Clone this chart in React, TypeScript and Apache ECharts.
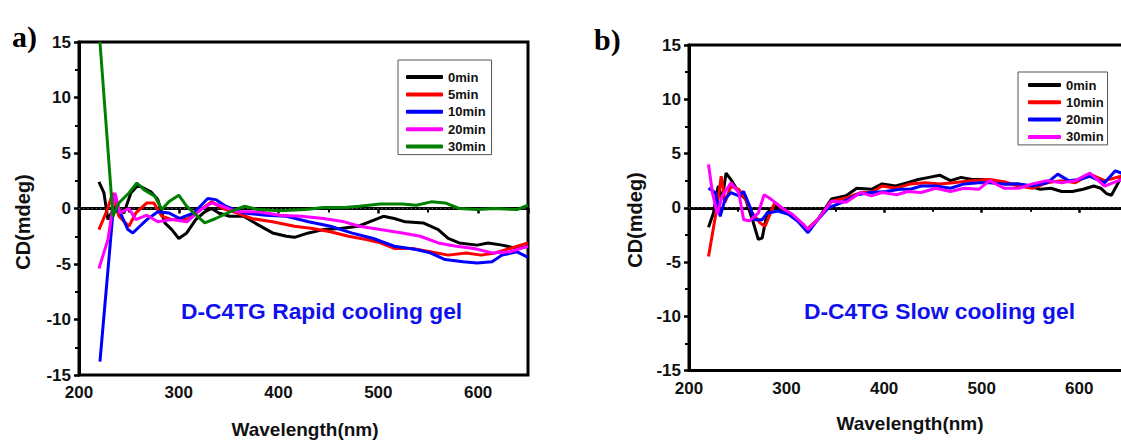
import React, { useEffect, useRef } from "react";
import * as echarts from "echarts";

const FONT = "Arial, 'Liberation Sans', sans-serif";
const SERIF = "'Times New Roman', 'Liberation Serif', serif";

// ---------- Panel a) D-C4TG Rapid cooling gel ----------
const aNames = ["0min", "5min", "10min", "20min", "30min"];
const aColors = ["#000000", "#ff0000", "#0000ff", "#ff00ff", "#008000"];

const a0X = [220, 225, 229, 236, 245, 252, 259, 272, 279, 286, 293, 300, 308, 317, 326, 333, 340, 351, 365, 380, 394, 408, 416, 430, 445, 462, 480, 491, 505, 516, 527, 545, 560, 570, 581, 599, 610, 624, 639, 650];
const a0Y = [2.4, 1.4, -1.0, 0.2, -0.4, 1.4, 2.1, 1.5, 0.8, -1.3, -1.9, -2.7, -2.2, -1.0, -0.3, 0.0, -0.4, -0.7, -0.7, -1.5, -2.2, -2.5, -2.6, -2.2, -1.9, -1.8, -1.6, -1.2, -0.7, -0.9, -1.2, -1.3, -1.9, -2.7, -3.1, -3.3, -3.1, -3.3, -3.6, -3.4];

const a5X = [220, 227, 234, 240, 250, 257, 268, 275, 283, 293, 308, 322, 333, 344, 358, 373, 394, 416, 434, 452, 470, 488, 502, 516, 534, 552, 570, 588, 603, 617, 632, 650];
const a5Y = [-1.9, -0.4, 1.4, -0.7, -1.6, -0.4, 0.5, 0.5, -0.7, -1.0, -1.0, -0.1, 0.6, 0.0, -0.4, -0.9, -1.2, -1.6, -1.8, -2.1, -2.5, -2.8, -3.1, -3.6, -3.6, -3.9, -4.2, -4.0, -4.2, -4.0, -3.6, -3.1];

const a10X = [221, 234, 240, 249, 254, 261, 268, 279, 290, 301, 315, 329, 337, 347, 365, 387, 408, 430, 452, 473, 495, 516, 538, 552, 567, 585, 599, 614, 624, 639, 650];
const a10Y = [-13.8, -0.4, -0.1, -1.9, -2.2, -1.6, -1.0, -0.3, -0.4, -0.9, -0.4, 0.9, 0.8, 0.2, -0.4, -0.6, -0.7, -1.2, -1.6, -2.2, -2.7, -3.4, -3.7, -4.0, -4.6, -4.8, -4.9, -4.8, -4.2, -3.9, -4.4];

const a20X = [220, 229, 236, 241, 250, 257, 268, 279, 293, 308, 322, 333, 344, 358, 380, 401, 423, 445, 466, 481, 502, 524, 542, 560, 578, 596, 614, 632, 650];
const a20Y = [-5.4, -2.8, 1.4, -0.4, 0.0, -1.0, -0.6, -1.2, -1.0, -1.2, -0.1, 0.5, 0.2, -0.3, -0.3, -0.6, -0.7, -0.9, -1.2, -1.6, -1.9, -2.2, -2.5, -3.1, -3.4, -3.6, -4.0, -3.9, -3.4];

const a30X = [221, 234, 240, 250, 258, 265, 276, 283, 290, 300, 308, 326, 337, 351, 366, 380, 401, 427, 445, 466, 481, 502, 524, 538, 553, 567, 581, 599, 617, 639, 650];
const a30Y = [15, -0.7, 0.5, 1.4, 2.3, 1.7, 1.1, -0.1, 0.6, 1.2, 0.2, -1.3, -0.9, -0.3, 0.2, -0.1, -0.2, -0.1, 0.1, 0.1, 0.2, 0.4, 0.4, 0.3, 0.6, 0.5, 0.0, -0.1, 0.0, -0.1, 0.3];

// ---------- Panel b) D-C4TG Slow cooling gel ----------
const bNames = ["0min", "10min", "20min", "30min"];
const bColors = ["#000000", "#ff0000", "#0000ff", "#ff00ff"];

const b0X = [220, 225, 230, 234, 238, 243, 251, 258, 265, 271, 275, 280, 288, 298, 310, 321, 332, 346, 361, 372, 387, 398, 412, 424, 435, 446, 457, 468, 479, 490, 501, 512, 523, 537, 548, 560, 571, 582, 593, 604, 615, 622, 628, 633, 643, 650];
const b0Y = [-1.8, -0.5, 2.0, 0.8, 3.2, 2.6, 1.4, 0.8, -1.1, -2.9, -2.8, -0.5, 0.2, -0.3, -1.1, -2.0, -1.1, 0.8, 1.1, 1.8, 1.7, 2.2, 2.0, 2.3, 2.6, 2.8, 3.0, 2.5, 2.8, 2.6, 2.6, 2.5, 2.2, 2.2, 2.0, 1.7, 1.8, 1.5, 1.5, 1.7, 2.0, 1.8, 1.3, 1.15, 2.8, 2.6];

const b10X = [220, 229, 233, 237, 243, 251, 258, 265, 273, 278, 288, 298, 310, 321, 332, 346, 361, 376, 387, 398, 412, 427, 442, 457, 471, 490, 508, 523, 538, 552, 567, 582, 596, 611, 626, 643, 650];
const b10Y = [-4.5, 0.2, 2.9, 0.5, 2.0, 1.7, 0.8, -0.5, -1.4, -1.7, 0.5, -0.2, -1.1, -2.0, -1.1, 0.6, 0.9, 1.4, 1.4, 2.0, 1.8, 2.2, 2.3, 2.2, 2.3, 2.5, 2.6, 2.4, 2.0, 1.8, 2.3, 2.5, 2.3, 3.1, 2.5, 2.9, 2.8];

const b20X = [220, 227, 232, 237, 243, 251, 256, 262, 267, 275, 280, 291, 302, 311, 322, 332, 343, 357, 372, 387, 402, 416, 427, 438, 453, 468, 482, 497, 508, 523, 538, 552, 567, 578, 589, 600, 611, 626, 637, 643, 650];
const b20Y = [1.8, 1.4, -0.8, 0.8, 1.4, 1.1, 1.5, 0.2, -1.1, -1.1, -0.5, -0.3, -0.6, -1.2, -2.3, -1.1, 0.0, 0.5, 1.2, 1.4, 1.5, 1.7, 1.7, 2.0, 2.0, 1.8, 2.2, 2.3, 2.3, 2.2, 2.2, 2.0, 2.3, 3.1, 2.5, 2.6, 2.9, 2.3, 3.4, 3.2, 3.0];

const b30X = [220, 224, 229, 234, 243, 251, 256, 262, 271, 277, 284, 295, 306, 317, 322, 332, 346, 361, 376, 387, 398, 413, 424, 438, 453, 468, 482, 497, 508, 523, 538, 552, 567, 582, 596, 611, 626, 643, 650];
const b30Y = [4.0, 1.4, -0.6, 1.1, 2.3, 1.4, -1.1, -1.2, -0.5, 1.2, 0.8, 0.0, -0.6, -1.5, -2.0, -1.1, 0.6, 0.5, 1.4, 1.1, 1.4, 1.2, 1.5, 1.4, 1.8, 1.5, 1.8, 1.7, 2.5, 1.8, 1.8, 2.2, 2.5, 2.3, 2.5, 3.2, 2.0, 2.6, 2.6];

// zero reference line (x extent, y value)
const zeroX = [200, 650];
const zeroY = [0, 0];

// axis settings / labels
const xMin = 200;
const xMax = 650;
const xStep = 100;
const yMin = -15;
const yMax = 15;
const yStep = 5;
const xTitle = "Wavelength(nm)";
const yTitle = "CD(mdeg)";
const aNote = "D-C4TG Rapid cooling gel";
const bNote = "D-C4TG Slow cooling gel";

const aData = [[a0X, a0Y], [a5X, a5Y], [a10X, a10Y], [a20X, a20Y], [a30X, a30Y]];
const bData = [[b0X, b0Y], [b10X, b10Y], [b20X, b20Y], [b30X, b30Y]];

const zip = (xs: number[], ys: number[]) => xs.map((x, i) => [x, ys[i]]);

function makeXAxis(gridIndex: number) {
  return {
    type: "value",
    gridIndex,
    min: xMin,
    max: xMax,
    interval: xStep,
    axisLine: { show: true, lineStyle: { color: "#000", width: 3 } },
    axisTick: { show: true, inside: false, length: 5, lineStyle: { color: "#000", width: 2.5 } },
    minorTick: { show: true, splitNumber: 2, length: 4, lineStyle: { color: "#000", width: 2 } },
    splitLine: { show: false },
    minorSplitLine: { show: false },
    axisLabel: {
      fontSize: 17,
      fontWeight: "bold",
      fontFamily: FONT,
      color: "#111",
      margin: 9,
      showMaxLabel: false,
    },
  };
}

function makeYAxis(gridIndex: number) {
  return {
    type: "value",
    gridIndex,
    min: yMin,
    max: yMax,
    interval: yStep,
    axisLine: { show: true, lineStyle: { color: "#000", width: 3 } },
    axisTick: { show: true, inside: false, length: 5, lineStyle: { color: "#000", width: 2.5 } },
    minorTick: { show: true, splitNumber: 2, length: 4, lineStyle: { color: "#000", width: 2 } },
    splitLine: { show: false },
    minorSplitLine: { show: false },
    axisLabel: {
      fontSize: 17,
      fontWeight: "bold",
      fontFamily: FONT,
      color: "#111",
      margin: 8,
    },
  };
}

function buildOption() {
  const series: any[] = [];
  [0, 1].forEach((g) => {
    series.push({
      type: "line",
      name: "zero" + g,
      xAxisIndex: g,
      yAxisIndex: g,
      data: zip(zeroX, zeroY),
      showSymbol: false,
      symbol: "none",
      silent: true,
      lineStyle: { width: 0.8, color: "#8a8a8a", type: [1.2, 3] },
      emphasis: { disabled: true },
      z: 1,
    });
  });
  aData.forEach(([xs, ys], i) => {
    series.push({
      type: "line",
      name: aNames[i],
      xAxisIndex: 0,
      yAxisIndex: 0,
      data: zip(xs, ys),
      showSymbol: false,
      symbol: "none",
      lineStyle: { width: 3, color: aColors[i] },
      itemStyle: { color: aColors[i] },
      clip: true,
      z: 2 + i,
    });
  });
  bData.forEach(([xs, ys], i) => {
    series.push({
      type: "line",
      name: "b:" + bNames[i],
      xAxisIndex: 1,
      yAxisIndex: 1,
      data: zip(xs, ys),
      showSymbol: false,
      symbol: "none",
      lineStyle: { width: 3, color: bColors[i] },
      itemStyle: { color: bColors[i] },
      clip: true,
      z: 2 + i,
    });
  });

  const legendText = { fontSize: 13, fontWeight: "bold", fontFamily: FONT, color: "#111", lineHeight: 14 };

  const txt = (text: string, x: number, y: number, opts: any = {}) => ({
    type: "text",
    x,
    y,
    rotation: opts.rotation || 0,
    style: {
      text,
      fill: opts.fill || "#111",
      fontSize: opts.fontSize || 17,
      fontWeight: "bold",
      fontFamily: opts.fontFamily || FONT,
      align: opts.align || "center",
      verticalAlign: "middle",
    },
    z: 10,
  });

  return {
    animation: false,
    backgroundColor: "#ffffff",
    grid: [
      { left: 79, top: 42, width: 449, height: 333, show: true, borderColor: "#000", borderWidth: 3, backgroundColor: "transparent" },
      { left: 689, top: 45, width: 439, height: 325.5, show: true, borderColor: "#000", borderWidth: 3, backgroundColor: "transparent" },
    ],
    xAxis: [makeXAxis(0), makeXAxis(1)],
    yAxis: [makeYAxis(0), makeYAxis(1)],
    legend: [
      {
        orient: "vertical",
        left: 398,
        top: 60,
        itemWidth: 37,
        itemHeight: 4,
        itemGap: 3.4,
        icon: "roundRect",
        padding: [10, 6, 1, 8],
        borderColor: "#555",
        borderWidth: 1,
        backgroundColor: "#fff",
        selectedMode: false,
        textStyle: legendText,
        data: aNames,
      },
      {
        orient: "vertical",
        left: 1018,
        top: 72,
        itemWidth: 33,
        itemHeight: 4,
        itemGap: 3.3,
        icon: "roundRect",
        padding: [6, 4, 1, 10],
        borderColor: "#555",
        borderWidth: 1,
        backgroundColor: "#fff",
        selectedMode: false,
        textStyle: legendText,
        formatter: (n: string) => n.slice(2),
        data: bNames.map((n) => "b:" + n),
      },
    ],
    graphic: [
      txt("a)", 12, 36, { fontSize: 30, fontFamily: SERIF, align: "left", fill: "#000" }),
      txt("b)", 594, 39, { fontSize: 30, fontFamily: SERIF, align: "left", fill: "#000" }),
      txt(xTitle, 305, 429, { fontSize: 19 }),
      txt(xTitle, 910, 423, { fontSize: 19 }),
      txt(yTitle, 23, 222, { fontSize: 20, rotation: Math.PI / 2 }),
      txt(yTitle, 635, 220, { fontSize: 20, rotation: Math.PI / 2 }),
      txt(aNote, 181, 311, { fontSize: 22.8, align: "left", fill: "#1010ee" }),
      txt(bNote, 804, 311, { fontSize: 22.8, align: "left", fill: "#1010ee" }),
    ],
    series,
  };
}

export default function App() {
  const ref = useRef<HTMLDivElement>(null);
  useEffect(() => {
    if (!ref.current) return;
    const chart = echarts.init(ref.current, null, { renderer: "svg" });
    chart.setOption(buildOption() as any);
    return () => chart.dispose();
  }, []);
  return (
    <div
      style={{
        position: "fixed",
        left: 0,
        top: 0,
        width: 1121,
        height: 440,
        overflow: "hidden",
        background: "#fff",
      }}
    >
      <div ref={ref} style={{ width: 1140, height: 440 }} />
    </div>
  );
}
